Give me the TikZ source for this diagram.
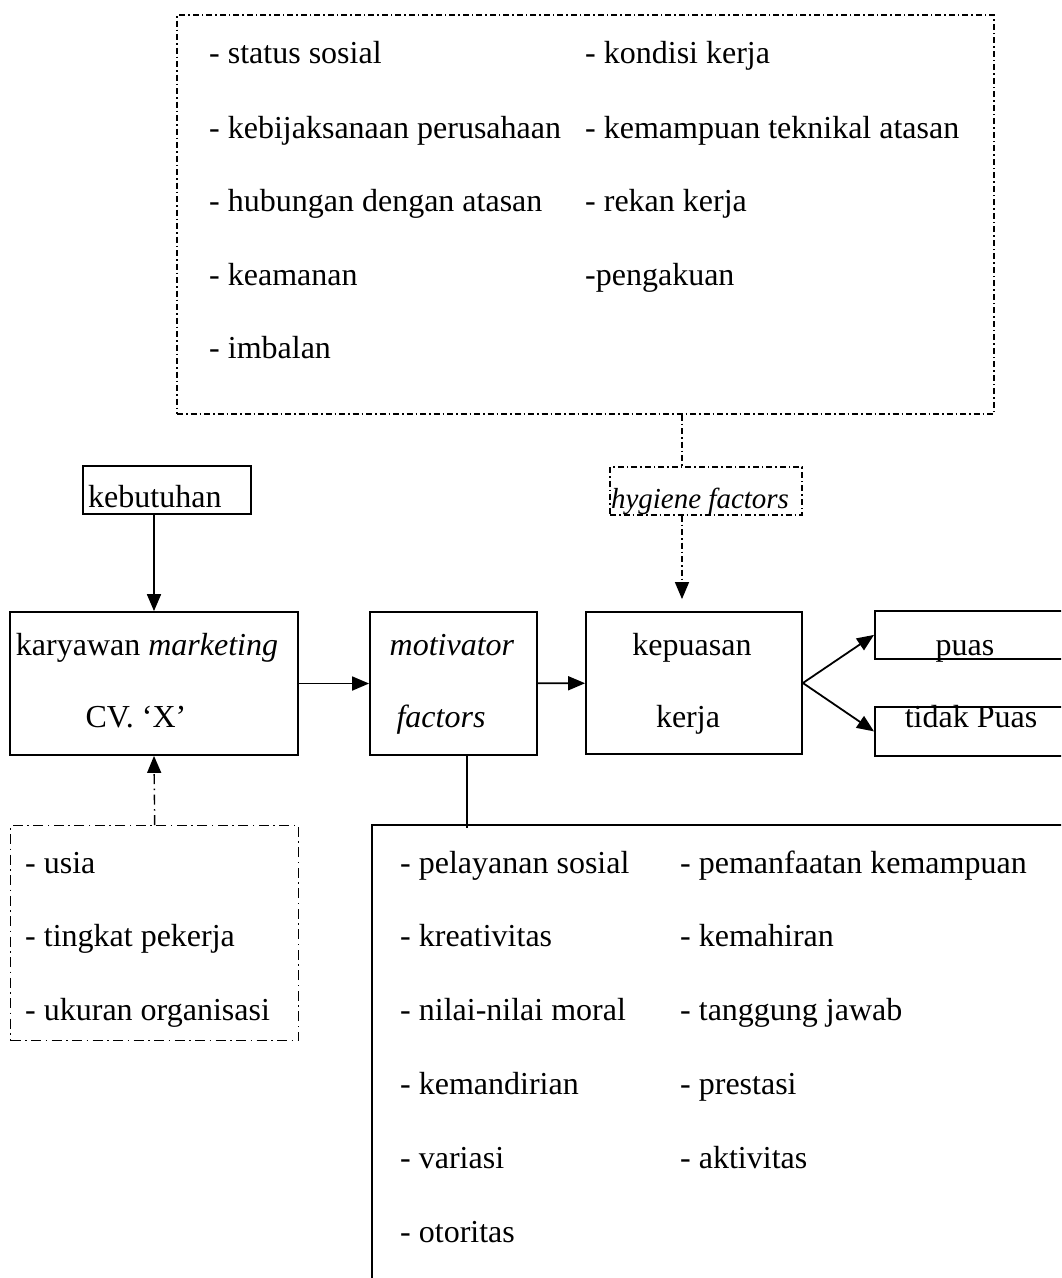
\documentclass[tikz,border=0pt]{standalone}
\usepackage{fontspec}
\setmainfont{Liberation Serif}
\usetikzlibrary{arrows.meta}

\begin{document}
\begin{tikzpicture}[x=1pt, y=-1pt,
    every node/.style={font=\fontsize{32}{38}\selectfont},
    box/.style={draw, line width=1.8pt, inner sep=0pt},
    listitem/.style={anchor=base west, inner sep=0pt},
    boxlbl/.style={anchor=base, inner sep=0pt},
    conn/.style={line width=1.8pt},
    dotdash/.style={line width=1.4pt, dash pattern=on 6pt off 3pt on 1.5pt off 3pt},
    longdotdash/.style={line width=1.4pt, dash pattern=on 10pt off 4.5pt on 1.5pt off 4.5pt},
    arrowto/.style={-{Triangle[length=17pt,width=14pt]}}]
  \useasboundingbox (0,0) rectangle (1061,1278);
  \clip (0,0) rectangle (1061,1278);

  \node[box, dotdash, minimum width=817pt, minimum height=399pt] (hyglist) at (585.5,214.5) {};
  \node[listitem] (h1) at (209,63) {- status sosial};
  \node[listitem] (h2) at (209,138) {- kebijaksanaan perusahaan};
  \node[listitem] (h3) at (209,211) {- hubungan dengan atasan};
  \node[listitem] (h4) at (209,285) {- keamanan};
  \node[listitem] (h5) at (209,358) {- imbalan};
  \node[listitem] (h6) at (585,63) {- kondisi kerja};
  \node[listitem] (h7) at (585,138) {- kemampuan teknikal atasan};
  \node[listitem] (h8) at (585,211) {- rekan kerja};
  \node[listitem] (h9) at (585,285) {-pengakuan};

  \node[box, dotdash, minimum width=192pt, minimum height=48pt] (hyg) at (706,491) {};
  \node[boxlbl, font=\fontsize{29}{35}\selectfont] (hygt) at (700,508) {\textit{hygiene factors}};

  \node[box, minimum width=168pt, minimum height=48pt] (keb) at (167,490) {};
  \node[listitem] (kebt) at (88,507) {kebutuhan};

  \node[box, minimum width=288pt, minimum height=143pt] (mkt) at (154,683.5) {};
  \node[boxlbl] (mkt1) at (147,655) {karyawan \textit{marketing}};
  \node[boxlbl] (mkt2) at (136,727) {CV. ‘X’};

  \node[box, minimum width=167pt, minimum height=143pt] (mot) at (453.5,683.5) {};
  \node[boxlbl] (mot1) at (452,655) {\textit{motivator}};
  \node[boxlbl] (mot2) at (441,727) {\textit{factors}};

  \node[box, minimum width=216pt, minimum height=142pt] (kep) at (694,683) {};
  \node[boxlbl] (kep1) at (692,655) {kepuasan};
  \node[boxlbl] (kep2) at (688,727) {kerja};

  \node[box, minimum width=240pt, minimum height=48pt, anchor=north west] (puas) at (874,610) {};
  \node[boxlbl] (puast) at (965,655) {puas};
  \node[box, minimum width=240pt, minimum height=49pt, anchor=north west] (tidak) at (874,706) {};
  \node[boxlbl] (tidakt) at (971,727) {tidak Puas};

  \node[box, longdotdash, minimum width=288pt, minimum height=215pt, anchor=north west] (usia) at (10,825) {};
  \node[listitem] (u1) at (25,873) {- usia};
  \node[listitem] (u2) at (25,946) {- tingkat pekerja};
  \node[listitem] (u3) at (25,1020) {- ukuran organisasi};

  \node[box, minimum width=760pt, minimum height=500pt, anchor=north west] (mlist) at (371,824) {};
  \node[listitem] (m1) at (400,873) {- pelayanan sosial};
  \node[listitem] (m2) at (400,946) {- kreativitas};
  \node[listitem] (m3) at (400,1020) {- nilai-nilai moral};
  \node[listitem] (m4) at (400,1094) {- kemandirian};
  \node[listitem] (m5) at (400,1168) {- variasi};
  \node[listitem] (m6) at (400,1242) {- otoritas};
  \node[listitem] (m7) at (680,873) {- pemanfaatan kemampuan};
  \node[listitem] (m8) at (680,946) {- kemahiran};
  \node[listitem] (m9) at (680,1020) {- tanggung jawab};
  \node[listitem] (m10) at (680,1094) {- prestasi};
  \node[listitem] (m11) at (680,1168) {- aktivitas};

  \coordinate (hj) at (682,0);
  \coordinate (mj) at (467,0);
  \draw[dotdash] (hyglist.south -| hj) -- (hyg.north -| hj);
  \draw[dotdash, arrowto, shorten >=12pt] (hyg.south -| hj) -- (kep.north -| hj);
  \draw[conn, arrowto] (keb.south -| mkt) -- (mkt.north);
  \draw[longdotdash, arrowto] (usia.north) -- (mkt.south);
  \draw[conn, arrowto] (mkt) -- (mot);
  \draw[conn, arrowto] (mot) -- (kep);
  \draw[conn, arrowto] (kep.east) -- (puas.west);
  \draw[conn, arrowto] (kep.east) -- (tidak.west);
  \draw[conn] (mot.south -| mj) -- ([yshift=-4pt]mlist.north -| mj);
\end{tikzpicture}
\end{document}
